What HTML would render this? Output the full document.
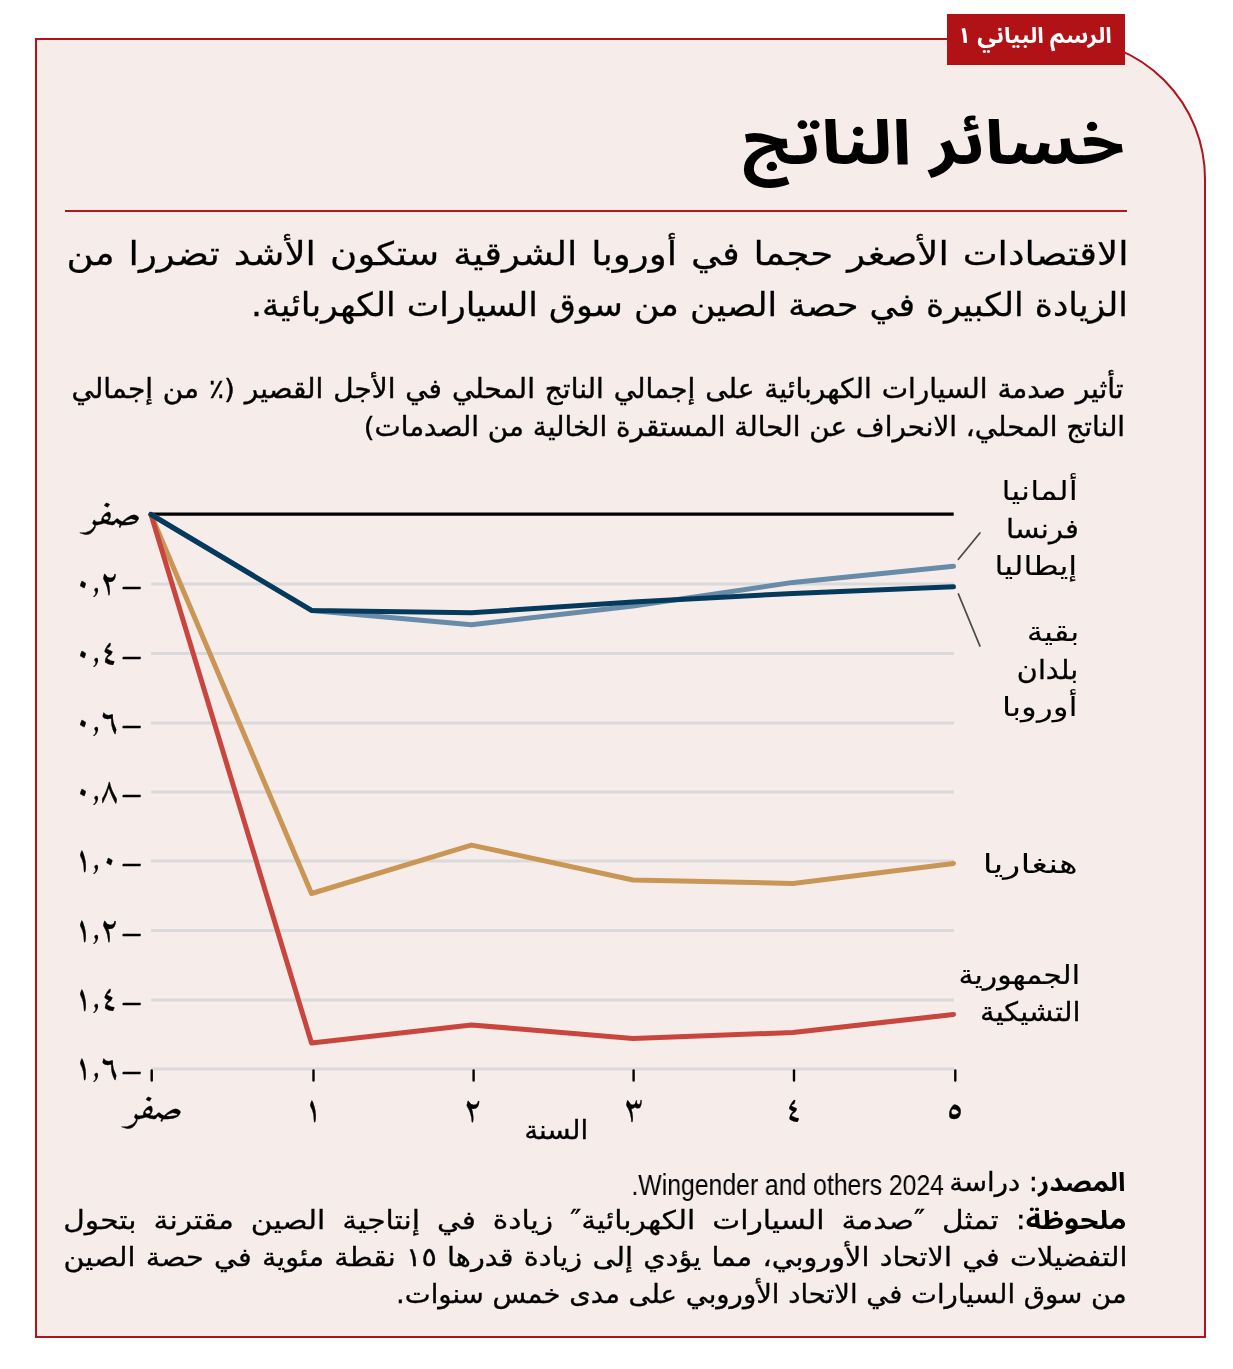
<!DOCTYPE html>
<html lang="ar" dir="rtl">
<head>
<meta charset="utf-8">
<title>خسائر الناتج</title>
<style>
  html, body { margin: 0; padding: 0; background: #ffffff; }
  body { width: 1233px; height: 1369px; position: relative; overflow: hidden;
         font-family: "DejaVu Sans", "Liberation Sans", sans-serif; color: #000; }
  .frame { position: absolute; left: 35px; top: 38px; width: 1167px; height: 1296px;
           border: 2px solid #b0141a; border-top-right-radius: 141px; background: #f6edeb; }
  .tag { position: absolute; left: 947px; top: 14px; width: 178px; height: 51px; background: #b01216; }
  .tag span { position: absolute; will-change: transform; right: 13px; top: -3.5px; line-height: 51px; color: #fff; font-weight: 700;
              font-family: "Noto Sans Arabic", sans-serif; font-size: 22px; white-space: nowrap; transform: scaleX(1.08); transform-origin: 100% 50%; }
  .t { position: absolute; white-space: nowrap; direction: rtl; color: #000; transform-origin: 100% 50%; will-change: transform;
        -webkit-text-stroke: 0.42px #000; }
  .just { text-align: justify; text-align-last: justify; white-space: normal; }
  .rule { position: absolute; left: 65px; top: 210px; width: 1062px; height: 2px; background: #b5161c; }
  .ax { position: absolute; will-change: transform; font-family: "Amiri", serif; font-weight: normal; font-size: 34px; line-height: 40px; -webkit-text-stroke: 0.3px #000;
         white-space: nowrap; direction: rtl; color: #000; }
  .xl { position: absolute; will-change: transform; width: 100px; text-align: center; font-family: "Amiri", serif; font-weight: normal;
         font-size: 34px; -webkit-text-stroke: 0.3px #000; line-height: 40px; white-space: nowrap; direction: rtl; color: #000; }
</style>
</head>
<body>
<div class="frame"></div>
<div class="tag"><span>الرسم البياني ١</span></div>
<div class="t" style="top:105px;right:108px;font-family:'Noto Sans Arabic',sans-serif;font-weight:720;font-size:62px;line-height:80px;transform:scaleX(1.148);-webkit-text-stroke:0">خسائر الناتج</div>
<div class="rule"></div>
<div class="t just" style="top:229.4px;right:104.55px;width:923.48px;font-size:32.3px;line-height:51px;transform:scaleX(1.1500);-webkit-text-stroke:0.27px #000">الاقتصادات الأصغر حجما في أوروبا الشرقية ستكون الأشد تضررا من</div>
<div class="t" style="top:280.0px;right:105.48px;font-size:32.3px;line-height:51px;transform:scaleX(1.0747);-webkit-text-stroke:0.29px #000;">الزيادة الكبيرة في حصة الصين من سوق السيارات الكهربائية.</div>
<div class="t just" style="top:369.7px;right:109.16px;width:1016.59px;font-size:27px;line-height:37px;transform:scaleX(1.0350);-webkit-text-stroke:0.39px #000">تأثير صدمة السيارات الكهربائية على إجمالي الناتج المحلي في الأجل القصير (٪ من إجمالي</div>
<div class="t" style="top:407.9px;right:108.14px;font-size:27px;line-height:37px;transform:scaleX(1.0302);-webkit-text-stroke:0.37px #000;">الناتج المحلي، الانحراف عن الحالة المستقرة الخالية من الصدمات)</div>
<svg style="position:absolute;left:0;top:0" width="1233" height="1369" viewBox="0 0 1233 1369">
<g stroke="#dadada" stroke-width="3">
<line x1="151" y1="584" x2="954" y2="584"/>
<line x1="151" y1="653.5" x2="954" y2="653.5"/>
<line x1="151" y1="723" x2="954" y2="723"/>
<line x1="151" y1="792" x2="954" y2="792"/>
<line x1="151" y1="861" x2="954" y2="861"/>
<line x1="151" y1="930.5" x2="954" y2="930.5"/>
<line x1="151" y1="1000" x2="954" y2="1000"/>
<line x1="151" y1="1069" x2="954" y2="1069"/>
</g>
<line x1="151" y1="514.2" x2="953.7" y2="514.2" stroke="#000" stroke-width="3.2"/>
<g stroke="#000" stroke-width="2.4" stroke-linecap="round">
<line x1="151.7" y1="1070.5" x2="151.7" y2="1080.5"/>
<line x1="313.5" y1="1070.5" x2="313.5" y2="1080.5"/>
<line x1="473.6" y1="1070.5" x2="473.6" y2="1080.5"/>
<line x1="633.6" y1="1070.5" x2="633.6" y2="1080.5"/>
<line x1="794" y1="1070.5" x2="794" y2="1080.5"/>
<line x1="955.3" y1="1070.5" x2="955.3" y2="1080.5"/>
</g>
<g fill="none" stroke-width="5" stroke-linejoin="round" stroke-linecap="round">
<polyline stroke="#c99655" points="151,514.5 311.5,893.5 471.5,845.1 633,880 793,883.5 953.5,863.4"/>
<polyline stroke="#c9463f" points="151,514.5 311.5,1043 471.5,1024.9 633,1038.4 793,1032.5 953.5,1014.4"/>
<polyline stroke="#678ba8" points="151,514.5 311.5,610.4 471.5,624.7 633,606 793,582.4 953.5,566.2"/>
<polyline stroke="#063a5c" points="151,514.5 311.5,610.4 471.5,612.8 633,602 793,593.4 953.5,586.8"/>
</g>
<g stroke="#4b4b4b" stroke-width="1.8" stroke-linecap="round"><line x1="958.4" y1="559.2" x2="979.9" y2="533"/><line x1="958.4" y1="594" x2="979.9" y2="646"/></g>
</svg>
<div class="ax" style="top:497px;right:1092px;font-size:34px;transform:scaleX(1.2);transform-origin:100% 50%">صفر</div>
<div class="ax" style="top:564px;right:1091.5px;letter-spacing:3px"><span style="display:inline-block;position:relative;top:3.5px;left:5.5px;transform:scaleX(1.22);transform-origin:100% 50%">–</span>٠,٢</div>
<div class="ax" style="top:633.5px;right:1091.5px;letter-spacing:3px"><span style="display:inline-block;position:relative;top:3.5px;left:5.5px;transform:scaleX(1.22);transform-origin:100% 50%">–</span>٠,٤</div>
<div class="ax" style="top:703px;right:1091.5px;letter-spacing:3px"><span style="display:inline-block;position:relative;top:3.5px;left:5.5px;transform:scaleX(1.22);transform-origin:100% 50%">–</span>٠,٦</div>
<div class="ax" style="top:772px;right:1091.5px;letter-spacing:3px"><span style="display:inline-block;position:relative;top:3.5px;left:5.5px;transform:scaleX(1.22);transform-origin:100% 50%">–</span>٠,٨</div>
<div class="ax" style="top:841px;right:1091.5px;letter-spacing:3px"><span style="display:inline-block;position:relative;top:3.5px;left:5.5px;transform:scaleX(1.22);transform-origin:100% 50%">–</span>١,٠</div>
<div class="ax" style="top:910.5px;right:1091.5px;letter-spacing:3px"><span style="display:inline-block;position:relative;top:3.5px;left:5.5px;transform:scaleX(1.22);transform-origin:100% 50%">–</span>١,٢</div>
<div class="ax" style="top:980px;right:1091.5px;letter-spacing:3px"><span style="display:inline-block;position:relative;top:3.5px;left:5.5px;transform:scaleX(1.22);transform-origin:100% 50%">–</span>١,٤</div>
<div class="ax" style="top:1049px;right:1091.5px;letter-spacing:3px"><span style="display:inline-block;position:relative;top:3.5px;left:5.5px;transform:scaleX(1.22);transform-origin:100% 50%">–</span>١,٦</div>
<div class="xl" style="left:104px;top:1091px;font-size:34px;transform:scaleX(1.2)">صفر</div>
<div class="xl" style="left:263px;top:1091px">١</div>
<div class="xl" style="left:423px;top:1091px">٢</div>
<div class="xl" style="left:583.5px;top:1091px">٣</div>
<div class="xl" style="left:744px;top:1091px">٤</div>
<div class="xl" style="left:905px;top:1091px">٥</div>
<div class="t" style="top:471.8px;right:155.48px;font-size:26.7px;line-height:37px;transform:scaleX(1.2169);-webkit-text-stroke:0.04px #000;">ألمانيا</div>
<div class="t" style="top:509.5px;right:154.52px;font-size:26.7px;line-height:37px;transform:scaleX(1.0887);-webkit-text-stroke:0.26px #000;">فرنسا</div>
<div class="t" style="top:546.8px;right:155.50px;font-size:26.7px;line-height:37px;transform:scaleX(1.1955);-webkit-text-stroke:0.08px #000;">إيطاليا</div>
<div class="t" style="top:613.1px;right:153.97px;font-size:26.7px;line-height:37px;transform:scaleX(1.2150);-webkit-text-stroke:0.04px #000;">بقية</div>
<div class="t" style="top:651.0px;right:154.26px;font-size:26.7px;line-height:37px;transform:scaleX(1.0722);-webkit-text-stroke:0.29px #000;">بلدان</div>
<div class="t" style="top:688.1px;right:155.17px;font-size:26.7px;line-height:37px;transform:scaleX(1.2276);-webkit-text-stroke:0.02px #000;">أوروبا</div>
<div class="t" style="top:844.9px;right:155.38px;font-size:26.7px;line-height:37px;transform:scaleX(1.3250);-webkit-text-stroke:0.00px #000;">هنغاريا</div>
<div class="t" style="top:955.8px;right:152.77px;font-size:26.7px;line-height:37px;transform:scaleX(1.1143);-webkit-text-stroke:0.22px #000;">الجمهورية</div>
<div class="t" style="top:992.6px;right:152.83px;font-size:26.7px;line-height:37px;transform:scaleX(1.0854);-webkit-text-stroke:0.27px #000;">التشيكية</div>
<div class="t" style="top:1111.6px;right:644.57px;font-size:26px;line-height:37px;transform:scaleX(1.0643);-webkit-text-stroke:0.31px #000;">السنة</div>
<div class="t" style="top:1164.3px;right:107.93px;font-size:25.8px;line-height:37px;transform:scaleX(1.0650);-webkit-text-stroke:0.31px #000;"><b style="font-family:'Noto Sans Arabic';font-weight:700;-webkit-text-stroke:0">المصدر</b>: دراسة</div>
<div class="t" style="top:1166.6px;right:289.5px;line-height:37px;font-family:'Liberation Sans',sans-serif;font-size:29px;transform:scaleX(0.854);-webkit-text-stroke:0">Wingender and others 2024.</div>
<div class="t just" style="top:1201.5px;right:106.85px;width:924.61px;font-size:25.8px;line-height:37px;transform:scaleX(1.1500);-webkit-text-stroke:0.27px #000"><b style="font-family:'Noto Sans Arabic';font-weight:700;-webkit-text-stroke:0">ملحوظة</b>: تمثل ″صدمة السيارات الكهربائية″ زيادة في إنتاجية الصين مقترنة بتحول</div>
<div class="t just" style="top:1239.3px;right:105.78px;width:958.41px;font-size:25.8px;line-height:37px;transform:scaleX(1.1100);-webkit-text-stroke:0.31px #000">التفضيلات في الاتحاد الأوروبي، مما يؤدي إلى زيادة قدرها ١٥ نقطة مئوية في حصة الصين</div>
<div class="t" style="top:1276.0px;right:105.87px;font-size:25.8px;line-height:37px;transform:scaleX(1.0656);-webkit-text-stroke:0.31px #000;">من سوق السيارات في الاتحاد الأوروبي على مدى خمس سنوات.</div>
</body>
</html>
